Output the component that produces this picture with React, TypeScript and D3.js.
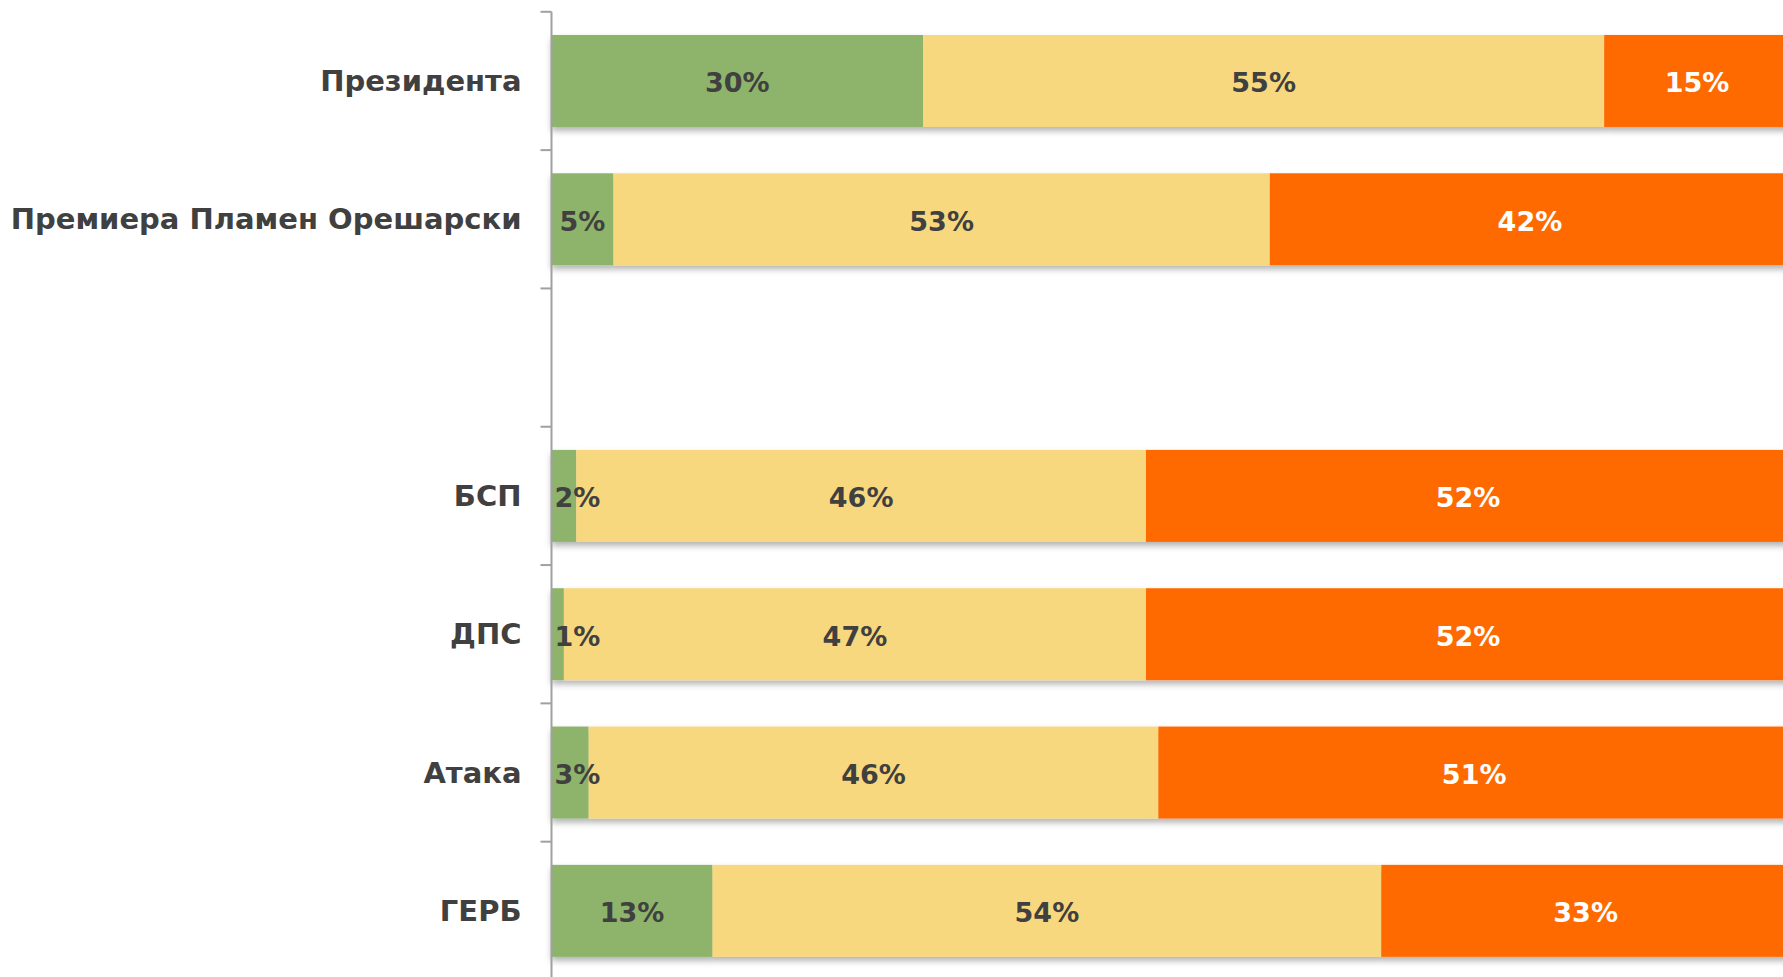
import * as d3 from "d3";

const categories = [
  "Президента",
  "Премиера Пламен Орешарски",
  "",
  "БСП",
  "ДПС",
  "Атака",
  "ГЕРБ",
];
const positive = [30, 5, null, 2, 1, 3, 13];
const neutral = [55, 53, null, 46, 47, 46, 54];
const negative = [15, 42, null, 52, 52, 51, 33];

const series = [
  { key: "positive", values: positive, color: "#8DB46A", text: "#404040" },
  { key: "neutral", values: neutral, color: "#F8D87E", text: "#404040" },
  { key: "negative", values: negative, color: "#FF6A00", text: "#FFFFFF" },
];

const width = 1783;
const height = 977;
const x0 = 551.5;
const font = "'DejaVu Sans', sans-serif";

export default function App() {
  const keys = categories.map((c, i) => `${i}:${c}`);
  const y = d3
    .scaleBand()
    .domain(keys)
    .range([11.8, 980])
    .paddingInner(0.335)
    .paddingOuter(0.1675);
  const x = d3.scaleLinear().domain([0, 100]).range([x0, 1790]);

  const rows = categories.map((c, i) => {
    let acc = 0;
    const segs = series
      .filter((s) => s.values[i] != null)
      .map((s) => {
        const v = s.values[i] as number;
        const seg = { ...s, v, start: acc, end: acc + v };
        acc += v;
        return seg;
      });
    return { c, key: keys[i], segs };
  });

  const step = y.step();
  const boundaries = d3.range(keys.length + 1).map((i) => 11.8 + i * step);

  return (
    <svg
      width={width}
      height={height}
      style={{ position: "absolute", left: 0, top: 0, background: "#fff" }}
    >
      <defs>
        <filter id="shadow" x="-5%" y="-20%" width="110%" height="150%">
          <feDropShadow dx="0" dy="4" stdDeviation="3" floodColor="#000" floodOpacity="0.3" />
        </filter>
      </defs>
      {rows.map((r) => (
        <g key={r.key}>
          <g filter="url(#shadow)">
            {r.segs.map((s) => (
              <rect
                key={s.key}
                x={x(s.start)}
                y={y(r.key)}
                width={x(s.end) - x(s.start)}
                height={y.bandwidth()}
                fill={s.color}
              />
            ))}
          </g>
          {r.segs.map((s) => {
            const w = x(s.end) - x(s.start);
            const small = w < 50;
            return (
              <text
                key={s.key + "-l"}
                x={small ? x(s.start) + 3 : (x(s.start) + x(s.end)) / 2}
                y={(y(r.key) as number) + y.bandwidth() / 2 + 2}
                textAnchor={small ? "start" : "middle"}
                dominantBaseline="central"
                fontFamily={font}
                fontWeight="bold"
                fontSize={27}
                fill={s.text}
              >
                {s.v}%
              </text>
            );
          })}
          <text
            x={x0 - 30}
            y={(y(r.key) as number) + y.bandwidth() / 2}
            textAnchor="end"
            dominantBaseline="central"
            fontFamily={font}
            fontWeight="bold"
            fontSize={29}
            fill="#404040"
          >
            {r.c}
          </text>
        </g>
      ))}
      <g stroke="#A0A0A0" strokeWidth={2}>
        <line x1={x0} x2={x0} y1={11.8} y2={height} />
        {boundaries.map((b, i) => (
          <line key={i} x1={x0 - 11} x2={x0} y1={b} y2={b} />
        ))}
      </g>
    </svg>
  );
}
